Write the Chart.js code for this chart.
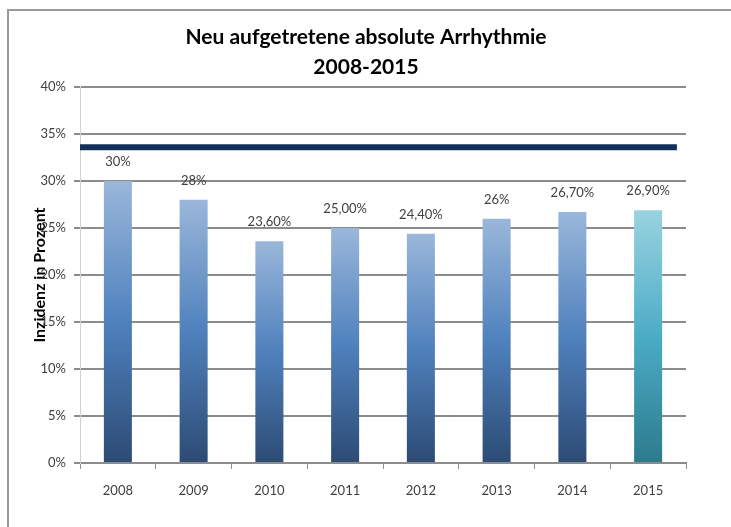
<!DOCTYPE html>
<html>
<head>
<meta charset="utf-8">
<title>Neu aufgetretene absolute Arrhythmie</title>
<script src="https://cdn.jsdelivr.net/npm/chart.js@4"></script>
<style>
  html, body { margin: 0; padding: 0; background: #fff; overflow: hidden; }
  body { width: 731px; height: 527px; position: relative; }
  #frame {
    position: absolute; left: 7px; top: 9px; width: 800px; height: 600px;
    border: 2px solid #9a9a9a; box-sizing: border-box;
  }
  #wrap { position: absolute; left: -20px; top: 0; width: 771px; height: 527px; }
</style>
</head>
<body>
<div id="frame"></div>
<div id="wrap"><canvas id="chart"></canvas></div>
<script>
// data
const years = ['2008', '2009', '2010', '2011', '2012', '2013', '2014', '2015'];
const incidence = [30, 28, 23.6, 25.0, 24.4, 26, 26.7, 26.9];
const valueLabels = ['30%', '28%', '23,60%', '25,00%', '24,40%', '26%', '26,70%', '26,90%'];
const referenceLevel = 33.6;
const referenceSpan = [0, 0.985];   // share of the plot width the dark line covers
const yMax = 40;
const yStep = 5;

const titleLines = ['Neu aufgetretene absolute Arrhythmie', '2008-2015'];
const yTitle = 'Inzidenz in Prozent';

const FONT = 'Lato, "Open Sans", sans-serif';

// Excel style vertical gradient per bar
function barFill(c) {
    const chart = c.chart;
    const last = c.dataIndex === years.length - 1;
    const stops = last
        ? ['#9ad3e0', '#4bacc6', '#2c7b8c']
        : ['#9ab7da', '#4f81bd', '#2c4b74'];
    const y = chart.scales && chart.scales.y;
    if (c.type !== 'data' || !y) return stops[1];
    const top = y.getPixelForValue(c.raw);
    const bottom = y.getPixelForValue(0);
    if (!isFinite(top) || !isFinite(bottom) || top === bottom) return stops[1];
    const g = chart.ctx.createLinearGradient(0, top, 0, bottom);
    g.addColorStop(0, stops[0]);
    g.addColorStop(0.5, stops[1]);
    g.addColorStop(1, stops[2]);
    return g;
}

const valueLabelPlugin = {
    id: 'valueLabels',
    afterDatasetsDraw(chart) {
        const meta = chart.getDatasetMeta(0);
        const ctx = chart.ctx;
        ctx.save();
        ctx.font = '13px ' + FONT;
        ctx.fillStyle = '#404040';
        ctx.textAlign = 'center';
        ctx.textBaseline = 'middle';
        meta.data.forEach((bar, i) => {
            ctx.fillText(valueLabels[i], bar.x, bar.y - 19);
        });
        ctx.restore();
    }
};

new Chart(document.getElementById('chart'), {
    type: 'bar',
    data: {
        labels: years,
        datasets: [
            {
                label: 'Inzidenz',
                data: incidence,
                backgroundColor: barFill,
                borderWidth: 0,
                grouped: false,
                barPercentage: 0.37,
                categoryPercentage: 1.0,
                order: 2
            },
            {
                type: 'line',
                label: 'Referenz',
                xAxisID: 'xLine',
                data: referenceSpan.map(x => ({ x: x, y: referenceLevel })),
                borderColor: '#14305a',
                borderWidth: 6,
                borderCapStyle: 'butt',
                pointRadius: 0,
                fill: false,
                order: 1
            }
        ]
    },
    options: {
        responsive: true,
        maintainAspectRatio: false,
        animation: false,
        layout: { padding: { left: 46, right: 45, top: 0, bottom: 0 } },
        plugins: {
            legend: { display: false },
            tooltip: { enabled: false },
            title: {
                display: true,
                text: titleLines,
                color: '#000',
                font: { family: FONT, size: 21, weight: 'bold', lineHeight: 1.43 },
                padding: { top: 22, bottom: 5 }
            }
        },
        scales: {
            x: {
                grid: {
                    display: true, drawOnChartArea: false, offset: true,
                    color: '#8c8c8c', tickLength: 6, lineWidth: 1
                },
                border: { color: '#8c8c8c', width: 2 },
                ticks: { color: '#404040', font: { family: FONT, size: 13 }, padding: 14 },
                afterFit(scale) { scale.height = 64; }
            },
            xLine: {
                type: 'linear', display: false, offset: false, min: 0, max: 1
            },
            y: {
                min: 0, max: yMax,
                ticks: {
                    stepSize: yStep,
                    color: '#404040',
                    font: { family: FONT, size: 13 },
                    padding: 8,
                    callback: v => v + '%'
                },
                grid: { color: '#8c8c8c', lineWidth: 2, tickLength: 6 },
                border: { color: '#d0d0d0', width: 1 },
                title: {
                    display: true, text: yTitle, color: '#000',
                    font: { family: FONT, size: 16, weight: 'bold' },
                    padding: { top: 4, bottom: 0 }
                },
                afterFit(scale) { scale.width = 54; }
            },
            // empty right-hand spacer so the chart title centres like the original
            ySpacer: {
                position: 'right',
                grid: { display: false },
                border: { display: false },
                ticks: { display: false },
                afterFit(scale) { scale.width = 20; }
            }
        }
    },
    plugins: [valueLabelPlugin]
});
</script>
</body>
</html>
